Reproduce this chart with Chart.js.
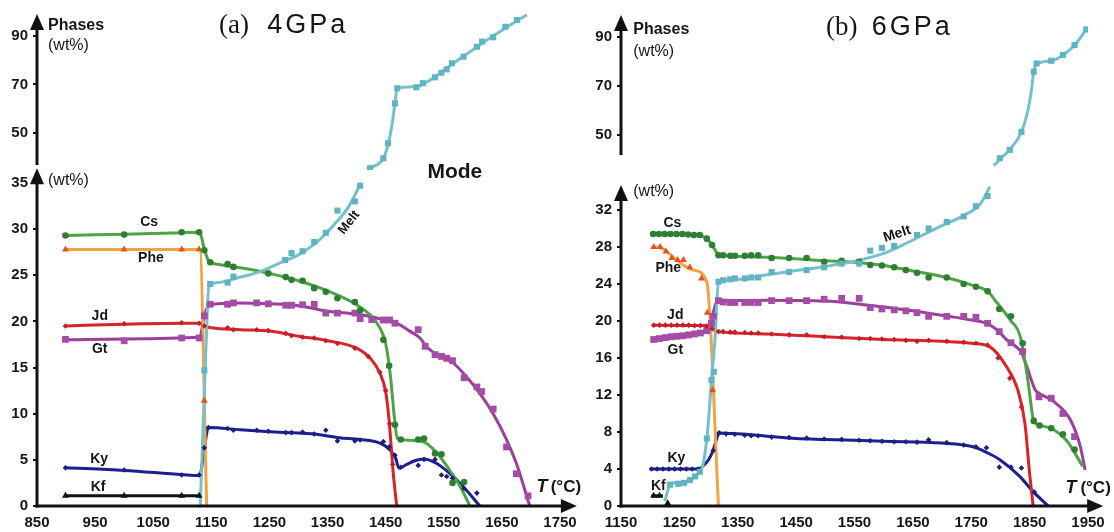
<!DOCTYPE html>
<html>
<head>
<meta charset="utf-8">
<title>Phase modes 4 and 6 GPa</title>
<script src="https://cdn.jsdelivr.net/npm/chart.js@4.4.1/dist/chart.umd.min.js"></script>
<style>
  html, body { margin: 0; padding: 0; background: #fff; }
  #wrap { position: relative; width: 1114px; height: 532px; overflow: hidden; }
  #wrap canvas { position: absolute; top: 0; }
  #gp4 { left: 0; }
  #gp6 { left: 560px; }
</style>
</head>
<body>
<div id="wrap">
  <canvas id="gp4" width="590" height="532"></canvas>
  <canvas id="gp6" width="554" height="532"></canvas>
</div>
<script>
// ---- axis ticks ----
const xTicks4 = [850, 950, 1050, 1150, 1250, 1350, 1450, 1550, 1650, 1750];
const xTicks6 = [1150, 1250, 1350, 1450, 1550, 1650, 1750, 1850, 1950];
const wtTicks4 = [0, 5, 10, 15, 20, 25, 30, 35];
const wtTicks6 = [0, 4, 8, 12, 16, 20, 24, 28, 32];
const phaseTicks = [50, 70, 90];

// ---- 4 GPa: [T (°C), wt%] — *Fit = smoothed curve, *Obs = run points ----
const cs4Fit = [[900,29.3],[1000,29.45],[1100,29.6],[1130,29.65],[1138,27.8],[1146,26.5],[1160,26.2],[1200,25.8],[1250,25.2],[1300,24.4],[1350,23.3],[1400,21.8],[1425,20.6],[1440,19.3],[1450,17.6],[1458,14.2],[1465,9.6],[1470,7.3],[1500,7.1],[1520,6.8],[1540,5.6],[1560,3.9],[1580,1.9],[1595,0]];
const cs4Obs = [[899,29.3],[1000,29.4],[1099,29.65],[1129,29.65],[1138,27.7],[1148,26.4],[1178,26.2],[1188,25.9],[1248,25.2],[1278,24.8],[1288,24.5],[1307,24.4],[1327,23.6],[1347,23.2],[1367,22.5],[1397,22.1],[1406,21.2],[1446,18.0],[1456,15.2],[1466,8.8],[1476,7.2],[1506,7.2],[1516,7.3],[1535,5.7],[1546,5.6],[1565,2.5],[1585,2.6]];
const phe4Fit = [[900,27.8],[1130,27.8],[1142,0]];
const phe4Obs = [[899,27.8],[1000,27.8],[1099,27.8],[1129,27.8],[1138,11.4]];
const jd4Fit = [[900,19.5],[1000,19.7],[1100,19.8],[1130,19.8],[1138,19.5],[1150,19.3],[1200,19.1],[1250,18.95],[1300,18.4],[1350,17.9],[1400,17.1],[1425,15.9],[1440,14.4],[1450,12.4],[1456,9.2],[1463,3.6],[1469,0]];
const jd4Obs = [[899,19.5],[1000,19.75],[1099,19.85],[1129,19.8],[1138,19.5],[1178,19.3],[1188,19.1],[1228,19.1],[1248,19.0],[1278,18.7],[1288,18.45],[1307,18.3],[1327,18.2],[1347,17.9],[1367,17.6],[1397,17.1],[1420,16.2],[1440,14.5],[1450,12.5],[1457,8.9],[1462,4.5]];
const gt4Fit = [[900,18.0],[1000,18.1],[1130,18.3],[1138,20.6],[1146,21.8],[1200,22.0],[1250,21.9],[1300,21.7],[1350,21.1],[1400,20.8],[1426,20.5],[1450,20.1],[1472,19.7],[1490,19.0],[1509,18.2],[1521,17.2],[1545,16.2],[1566,15.5],[1589,14.0],[1612,12.2],[1635,10.0],[1658,7.2],[1675,4.6],[1698,0]];
const gt4Obs = [[899,18.05],[1000,17.9],[1099,18.2],[1129,18.2],[1138,20.6],[1148,21.85],[1178,21.85],[1188,22.0],[1228,22.0],[1248,21.9],[1278,21.75],[1288,21.75],[1307,21.8],[1327,21.85],[1347,20.9],[1367,20.9],[1397,20.9],[1406,20.3],[1426,20.2],[1446,20.15],[1457,20.15],[1466,19.8],[1506,19.1],[1518,17.3],[1535,16.4],[1546,16.2],[1555,16.0],[1565,15.75],[1585,13.9],[1607,12.9],[1615,12.4],[1635,10.5],[1658,6.4],[1675,3.5],[1695,1.1]];
const ky4Fit = [[900,4.15],[1000,3.85],[1100,3.4],[1130,3.3],[1138,6.3],[1145,8.5],[1200,8.25],[1250,8.05],[1300,7.9],[1327,7.8],[1370,7.4],[1406,7.2],[1440,6.8],[1457,6.1],[1467,5.2],[1473,4.1],[1486,4.5],[1500,4.9],[1515,5.1],[1538,4.6],[1566,3.2],[1589,1.7],[1612,0]];
const ky4Obs = [[899,4.15],[1000,3.9],[1099,3.36],[1129,3.36],[1138,6.3],[1145,8.5],[1178,8.4],[1188,8.2],[1228,8.2],[1248,8.1],[1278,7.95],[1288,7.95],[1307,8.0],[1327,7.8],[1347,8.2],[1367,7.05],[1397,7.05],[1406,7.15],[1446,6.97],[1456,6.4],[1466,5.5],[1476,4.2],[1506,4.4],[1516,5.05],[1535,5.05],[1546,3.36],[1555,3.2],[1565,3.0],[1585,1.9],[1607,1.4]];
const kf4Fit = [[900,1.1],[1130,1.1]];
const kf4Obs = [[899,1.1],[1000,1.1],[1099,1.1],[1129,1.1]];
const melt4Fit = [[1131,0],[1139,14],[1143,21],[1146,23.9],[1160,24.2],[1200,24.8],[1234,25.4],[1270,26.4],[1300,27.2],[1330,28.5],[1360,30.4],[1385,32.3],[1406,34.8]];
const melt4Obs = [[1138,14.7],[1148,24.05],[1178,24.2],[1188,24.85],[1277,26.65],[1288,27.4],[1307,27.6],[1327,28.6],[1347,29.6],[1367,32.0],[1397,33.0],[1406,34.7]];
const meltUp4Fit = [[1423,35.5],[1446,39.6],[1455,46],[1462,55],[1466,62.5],[1470,68.4],[1500,69],[1530,72.3],[1560,77.6],[1600,84.3],[1640,90.7],[1670,95.3],[1693,98.6]];
const meltUp4Obs = [[1423,35.5],[1446,39.6],[1454,45.8],[1466,62.2],[1470,68.4],[1503,68.8],[1514,70.5],[1535,72.9],[1546,74.8],[1555,76.2],[1564,78.7],[1584,81.4],[1607,85.5],[1616,87.6],[1635,89.4],[1656,93.7],[1676,96.5]];

// ---- 6 GPa ----
const cs6Fit = [[1205,29.4],[1280,29.3],[1295,29.0],[1305,28.3],[1315,27.3],[1322,27.1],[1400,26.9],[1500,26.5],[1550,26.35],[1600,26.0],[1650,25.4],[1700,24.8],[1750,23.9],[1778,23.2],[1795,21.9],[1817,20.1],[1834,18.3],[1847,13.6],[1856,9.4],[1859,9.0],[1867,8.75],[1890,8.3],[1913,7.1],[1941,4.3]];
const cs6Obs = [[1205,29.4],[1215,29.4],[1225,29.4],[1235,29.4],[1245,29.4],[1255,29.4],[1265,29.35],[1275,29.3],[1285,29.3],[1297,28.9],[1306,28.2],[1317,27.1],[1325,27.1],[1337,27.05],[1345,27.05],[1362,27.05],[1373,27.1],[1385,27.1],[1408,26.8],[1438,26.8],[1468,26.8],[1498,26.4],[1528,26.5],[1558,26.4],[1577,26.05],[1597,26.0],[1618,25.8],[1638,25.5],[1657,25.2],[1677,24.7],[1708,24.7],[1737,24.0],[1758,23.7],[1778,23.2],[1798,21.3],[1818,20.5],[1838,17.6],[1857,9.2],[1867,8.7],[1887,8.4],[1907,7.75],[1927,6.1]];
const phe6Fit = [[1206,28.0],[1222,27.8],[1245,26.6],[1274,25.5],[1297,24.2],[1317,0]];
const phe6Obs = [[1206,28.0],[1217,28.0],[1227,27.5],[1237,26.8],[1247,26.6],[1257,26.6],[1268,25.8],[1288,24.6],[1298,20.9],[1307,12.5]];
const jd6Fit = [[1206,19.55],[1290,19.5],[1300,19.3],[1317,18.85],[1400,18.6],[1500,18.3],[1600,18.0],[1700,17.8],[1750,17.6],[1782,17.2],[1810,15.1],[1830,12.5],[1842,8.9],[1850,3.5],[1856,0]];
const jd6Obs = [[1206,19.55],[1216,19.55],[1226,19.55],[1236,19.55],[1246,19.55],[1256,19.55],[1266,19.55],[1276,19.5],[1286,19.5],[1296,19.45],[1306,19.2],[1317,18.85],[1325,18.85],[1337,18.8],[1345,18.8],[1362,18.75],[1373,18.7],[1385,18.7],[1408,18.6],[1438,18.5],[1468,18.5],[1498,18.3],[1528,18.25],[1558,18.1],[1577,18.1],[1597,18.05],[1618,18.0],[1638,17.9],[1657,17.8],[1677,17.9],[1708,17.8],[1737,17.7],[1758,17.6],[1778,17.4],[1796,16.0],[1816,13.8],[1836,10.7]];
const gt6Fit = [[1206,18.0],[1250,18.3],[1280,18.6],[1295,19.0],[1305,20.2],[1312,21.8],[1317,22.2],[1400,22.25],[1500,22.15],[1560,21.8],[1600,21.5],[1650,21.1],[1696,20.65],[1750,20.1],[1776,19.75],[1795,19.0],[1810,18.0],[1825,17.3],[1836,16.6],[1845,15.1],[1860,12.5],[1866,12.2],[1891,11.3],[1920,9.3],[1937,6.4],[1945,3.9]];
const gt6Obs = [[1206,18.0],[1216,18.1],[1226,18.2],[1236,18.3],[1246,18.35],[1256,18.4],[1266,18.5],[1276,18.6],[1286,18.7],[1297,18.95],[1305,19.75],[1308,20.5],[1317,22.2],[1325,22.05],[1337,22.0],[1345,22.0],[1362,22.0],[1373,22.0],[1385,22.0],[1408,22.2],[1438,22.2],[1468,22.2],[1498,22.35],[1528,22.45],[1558,22.45],[1577,21.45],[1597,21.3],[1618,21.2],[1638,21.1],[1657,20.9],[1677,20.5],[1708,20.5],[1737,20.5],[1758,20.4],[1778,19.75],[1798,18.85],[1818,17.65],[1838,16.7],[1866,11.8],[1887,11.65],[1907,10.0],[1927,7.5]];
const ky6Fit = [[1202,4.0],[1282,4.0],[1290,4.3],[1300,5.0],[1308,6.05],[1314,7.3],[1318,7.9],[1350,7.8],[1400,7.55],[1450,7.3],[1500,7.2],[1600,7.0],[1700,6.8],[1753,6.4],[1776,5.8],[1799,5.0],[1833,3.2],[1856,1.55],[1882,0]];
const ky6Obs = [[1202,4.0],[1212,4.0],[1222,4.0],[1232,4.0],[1242,4.0],[1252,4.0],[1262,4.0],[1272,4.0],[1282,4.0],[1308,6.0],[1318,7.9],[1330,7.8],[1345,7.75],[1362,7.65],[1373,7.6],[1385,7.6],[1408,7.45],[1438,7.4],[1468,7.35],[1498,7.25],[1528,7.2],[1558,7.1],[1577,7.05],[1597,7.0],[1618,6.95],[1638,6.95],[1657,6.9],[1677,7.15],[1708,6.85],[1737,6.6],[1758,6.4],[1776,6.3],[1798,4.2],[1818,4.2],[1836,4.1],[1858,1.5]];
const kf6Fit = [[1202,1.1],[1222,1.1]];
const kf6Obs = [[1206,1.1],[1216,1.1],[1230,0.3]];
const melt6Fit = [[1225,0.5],[1233,2.2],[1240,2.5],[1255,2.5],[1270,2.9],[1282,3.5],[1291,4.6],[1297,7.3],[1300,9.3],[1305,13.6],[1311,18],[1317,24.2],[1350,24.5],[1400,25.0],[1450,25.45],[1500,25.9],[1550,26.45],[1600,27.3],[1639,28.4],[1696,30.2],[1740,31.5],[1765,32.6],[1782,34.5]];
const melt6Obs = [[1234,2.3],[1248,2.4],[1258,2.5],[1268,2.8],[1277,3.2],[1285,3.7],[1297,7.3],[1305,13.6],[1309,14.5],[1317,24.25],[1325,24.4],[1337,24.5],[1345,24.6],[1362,24.6],[1373,24.7],[1385,24.7],[1408,25.3],[1438,25.3],[1468,25.5],[1498,25.8],[1528,26.2],[1558,26.2],[1577,27.6],[1597,27.9],[1618,28.1],[1657,29.3],[1677,30.0],[1708,30.7],[1737,31.3],[1758,32.4],[1778,33.5]];
const meltUp6Fit = [[1789,37.5],[1800,40.3],[1816,44.0],[1836,51.3],[1847,60],[1853,68],[1857,75.8],[1862,79.0],[1887,80.3],[1907,82.6],[1927,86.6],[1947,93.1]];
const meltUp6Obs = [[1799,40.5],[1816,43.9],[1836,51.3],[1857,75.8],[1862,79.2],[1887,80.3],[1907,82.7],[1927,86.7],[1947,93.1]];

const FONT = "'Liberation Sans', Arial, Helvetica, sans-serif";
const SERIF = "'Liberation Serif', 'Times New Roman', serif";
const INK = '#161616';

const LOOK = {
  melt: { line: '#74c1cd', mark: '#5fb4c2', pointStyle: 'rect', radius: 4.3 },
  cs:   { line: '#4fa346', mark: '#2f7f33', pointStyle: 'circle', radius: 3.3 },
  phe:  { line: '#f2a341', mark: '#e2531d', pointStyle: 'triangle', radius: 4 },
  jd:   { line: '#d5252b', mark: '#c81d25', pointStyle: 'rectRot', radius: 2.8 },
  gt:   { line: '#9a3f9c', mark: '#a54ca6', pointStyle: 'rect', radius: 4.8 },
  ky:   { line: '#1e1e8c', mark: '#1b1f7e', pointStyle: 'rectRot', radius: 2.8 },
  kf:   { line: '#111111', mark: '#111111', pointStyle: 'triangle', radius: 4 }
};

const xy = a => a.map(([x, y]) => ({ x, y }));

// markers go in order 0 (on top), fitted curves in order 1
function series(name, fit, obs, yAxisID = 'y') {
  const s = LOOK[name];
  return [
    { data: xy(obs), yAxisID, order: 0, showLine: false,
      pointStyle: s.pointStyle, pointRadius: s.radius, pointBorderWidth: 0,
      pointBackgroundColor: s.mark, pointBorderColor: s.mark },
    { data: xy(fit), yAxisID, order: 1, borderColor: s.line, borderWidth: 3,
      pointRadius: 0, cubicInterpolationMode: 'monotone', fill: false }
  ];
}

const bold = px => `bold ${px}px ${FONT}`;

// per-panel geometry (in data units) and the text placed on each panel
const PANEL = {
  gp4: {
    xMin: 850, xMax: 1750, xTicks: xTicks4, wtTicks: wtTicks4,
    lowMax: 36.4, upMin: 34.77, upMax: 98.97, axisWidth: 37, padRight: 30,
    xTip: 1779, lowTip: 36.6, upFrom: 36.8, upTip: 99,
    notes: [
      { text: '(a)', t: 1189, w: 91.15, axis: 'y2', font: `27px ${SERIF}`, base: 'alphabetic' },
      { text: '4GPa', t: 1316, w: 91.15, axis: 'y2', font: `27px ${FONT}`, base: 'alphabetic', spacing: '3px' },
      { text: 'Phases', t: 869, w: 94.4, axis: 'y2', font: bold(16), align: 'left' },
      { text: '(wt%)', t: 869, w: 85.8, axis: 'y2', font: `16px ${FONT}`, align: 'left' },
      { text: '(wt%)', t: 869, w: 35.2, font: `16px ${FONT}`, align: 'left' },
      { text: 'Mode', t: 1569, w: 36.2, font: bold(21) },
      { text: 'Cs', t: 1043, w: 30.8, font: bold(14) },
      { text: 'Phe', t: 1046, w: 26.8, font: bold(14) },
      { text: 'Jd', t: 958, w: 20.6, font: bold(14) },
      { text: 'Gt', t: 958, w: 17.0, font: bold(14) },
      { text: 'Ky', t: 957, w: 5.1, font: bold(14) },
      { text: 'Kf', t: 955, w: 2.06, font: bold(14) },
      { text: 'Melt', t: 1387, w: 30.7, font: bold(13), rot: -52 },
      { text: 'T', t: 1719, w: 2.06, font: `italic bold 18px ${FONT}` },
      { text: '(°C)', t: 1734, w: 2.06, font: bold(17), align: 'left' }
    ]
  },
  gp6: {
    xMin: 1150, xMax: 1950, xTicks: xTicks6, wtTicks: wtTicks6,
    lowMax: 36.32, upMin: 35.71, upMax: 99.39, axisWidth: 61, padRight: 26,
    xTip: 1976, lowTip: 34.7, upFrom: 41.8, upTip: 99,
    notes: [
      { text: '(b)', t: 1528, w: 90.8, axis: 'y2', font: `27px ${SERIF}`, base: 'alphabetic' },
      { text: '6GPa', t: 1649, w: 90.8, axis: 'y2', font: `27px ${FONT}`, base: 'alphabetic', spacing: '3px' },
      { text: 'Phases', t: 1171, w: 92.9, axis: 'y2', font: bold(16), align: 'left' },
      { text: '(wt%)', t: 1171, w: 83.9, axis: 'y2', font: `16px ${FONT}`, align: 'left' },
      { text: '(wt%)', t: 1171, w: 33.95, font: `16px ${FONT}`, align: 'left' },
      { text: 'Cs', t: 1238, w: 30.6, font: bold(14) },
      { text: 'Phe', t: 1231, w: 25.7, font: bold(14) },
      { text: 'Jd', t: 1243, w: 20.65, font: bold(14) },
      { text: 'Gt', t: 1243, w: 16.86, font: bold(14) },
      { text: 'Ky', t: 1245, w: 5.19, font: bold(14) },
      { text: 'Kf', t: 1214, w: 2.16, font: bold(14) },
      { text: 'Melt', t: 1623, w: 29.4, font: bold(14), rot: -18 },
      { text: 'T', t: 1921, w: 1.95, font: `italic bold 18px ${FONT}` },
      { text: '(°C)', t: 1937, w: 1.95, font: bold(17), align: 'left' }
    ]
  }
};

function arrowHead(ctx, x, y, dir) {
  const len = 16, half = 7;
  ctx.beginPath();
  ctx.moveTo(x, y);
  if (dir === 'up') {
    ctx.lineTo(x - half, y + len);
    ctx.lineTo(x + half, y + len);
  } else {
    ctx.lineTo(x - len, y - half);
    ctx.lineTo(x - len, y + half);
  }
  ctx.closePath();
  ctx.fill();
}

function segment(ctx, x1, y1, x2, y2) {
  ctx.beginPath();
  ctx.moveTo(x1, y1);
  ctx.lineTo(x2, y2);
  ctx.stroke();
}

// broken wt% axis with arrows, T axis arrow, and the panel lettering
const axesAndNotes = {
  id: 'axesAndNotes',
  afterDraw(chart) {
    const p = PANEL[chart.canvas.id];
    const { ctx, scales: { x, y, y2 } } = chart;
    const ax = x.getPixelForValue(p.xMin);
    const base = y.getPixelForValue(0);
    ctx.save();
    ctx.strokeStyle = ctx.fillStyle = '#111';
    ctx.lineWidth = 3;

    const xt = x.getPixelForValue(p.xTip);
    segment(ctx, ax - 1.5, base, xt - 12, base);
    arrowHead(ctx, xt, base, 'right');

    const lt = y.getPixelForValue(p.lowTip);
    segment(ctx, ax, base + 1.5, ax, lt + 12);
    arrowHead(ctx, ax, lt, 'up');

    const ub = y2.getPixelForValue(p.upFrom), ut = y2.getPixelForValue(p.upTip);
    segment(ctx, ax, ub, ax, ut + 12);
    arrowHead(ctx, ax, ut, 'up');

    for (const n of p.notes) {
      const px = x.getPixelForValue(n.t);
      const py = (n.axis === 'y2' ? y2 : y).getPixelForValue(n.w);
      ctx.save();
      ctx.translate(px, py);
      if (n.rot) ctx.rotate(n.rot * Math.PI / 180);
      ctx.font = n.font;
      ctx.letterSpacing = n.spacing || '0px';
      ctx.textAlign = n.align || 'center';
      ctx.textBaseline = n.base || 'middle';
      ctx.fillStyle = INK;
      ctx.fillText(n.text, 0, 0);
      ctx.restore();
    }
    ctx.restore();
  }
};

function panelScales(p) {
  const tickFont = { family: FONT, size: 15, weight: 'bold' };
  const fixedTicks = list => scale => { scale.ticks = list.map(v => ({ value: v })); };
  const yGrid = { drawOnChartArea: false, tickLength: 4, color: '#111', lineWidth: 2 };
  return {
    x: {
      type: 'linear', min: p.xMin, max: p.xMax,
      afterBuildTicks: fixedTicks(p.xTicks),
      afterFit: s => { s.height = 26; },
      grid: { display: false, drawTicks: false },
      border: { display: false },
      ticks: { font: tickFont, color: INK, padding: 8, maxRotation: 0, autoSkip: false, callback: v => String(v) }
    },
    y: {
      type: 'linear', position: 'left', stack: 'wt', stackWeight: 336, weight: 0,
      min: 0, max: p.lowMax,
      afterBuildTicks: fixedTicks(p.wtTicks),
      afterFit: s => { s.width = p.axisWidth; },
      grid: yGrid,
      border: { display: false },
      ticks: { font: tickFont, color: INK, padding: 5, autoSkip: false, callback: v => String(v) }
    },
    y2: {
      type: 'linear', position: 'left', stack: 'wt', stackWeight: 156, weight: 1,
      min: p.upMin, max: p.upMax,
      afterBuildTicks: fixedTicks(phaseTicks),
      afterFit: s => { s.width = p.axisWidth; },
      grid: yGrid,
      border: { display: false },
      ticks: { font: tickFont, color: INK, padding: 5, autoSkip: false, callback: v => String(v) }
    }
  };
}

function buildPanel(id, datasets) {
  const p = PANEL[id];
  return new Chart(document.getElementById(id), {
    type: 'line',
    data: { datasets },
    options: {
      responsive: false,
      animation: false,
      events: [],
      layout: { padding: { left: 0, right: p.padRight, top: 14, bottom: 0 } },
      plugins: { legend: { display: false }, tooltip: { enabled: false } },
      scales: panelScales(p)
    },
    plugins: [axesAndNotes]
  });
}

buildPanel('gp4', [
  ...series('melt', melt4Fit, melt4Obs),
  ...series('melt', meltUp4Fit, meltUp4Obs, 'y2'),
  ...series('cs', cs4Fit, cs4Obs),
  ...series('phe', phe4Fit, phe4Obs),
  ...series('jd', jd4Fit, jd4Obs),
  ...series('gt', gt4Fit, gt4Obs),
  ...series('ky', ky4Fit, ky4Obs),
  ...series('kf', kf4Fit, kf4Obs)
]);

buildPanel('gp6', [
  ...series('melt', melt6Fit, melt6Obs),
  ...series('melt', meltUp6Fit, meltUp6Obs, 'y2'),
  ...series('cs', cs6Fit, cs6Obs),
  ...series('phe', phe6Fit, phe6Obs),
  ...series('jd', jd6Fit, jd6Obs),
  ...series('gt', gt6Fit, gt6Obs),
  ...series('ky', ky6Fit, ky6Obs),
  ...series('kf', kf6Fit, kf6Obs)
]);
</script>
</body>
</html>
